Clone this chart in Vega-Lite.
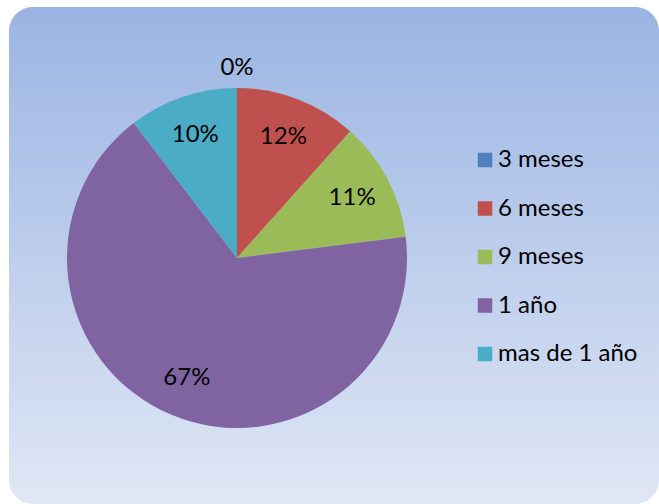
{
  "$schema": "https://vega.github.io/schema/vega-lite/v6.json",
  "width": 650,
  "height": 497,
  "padding": {"left": 9, "top": 7, "right": 0, "bottom": 0},
  "autosize": {"type": "none"},
  "background": "white",
  "view": {
    "fill": {
      "gradient": "linear",
      "x1": 0, "y1": 0, "x2": 0, "y2": 1,
      "stops": [
        {"offset": 0, "color": "#9ab4e3"},
        {"offset": 1, "color": "#e0e7f5"}
      ]
    },
    "cornerRadius": 24,
    "stroke": null
  },
  "data": {
    "values": [
      {"periodo": "3 meses", "valor": 0.0, "orden": 1},
      {"periodo": "6 meses", "valor": 0.116, "orden": 2},
      {"periodo": "9 meses", "valor": 0.114, "orden": 3},
      {"periodo": "1 año", "valor": 0.666, "orden": 4},
      {"periodo": "mas de 1 año", "valor": 0.104, "orden": 5}
    ]
  },
  "encoding": {
    "theta": {"field": "valor", "type": "quantitative", "stack": true},
    "order": {"field": "orden", "type": "quantitative"}
  },
  "layer": [
    {
      "mark": {"type": "arc", "outerRadius": 170, "x": 228, "y": 251, "stroke": null},
      "encoding": {
        "color": {
          "field": "periodo",
          "type": "nominal",
          "scale": {
            "domain": ["3 meses", "6 meses", "9 meses", "1 año", "mas de 1 año"],
            "range": ["#4f81bd", "#c0504d", "#9bbb59", "#8064a2", "#4bacc6"]
          },
          "legend": {
            "orient": "none",
            "legendX": 464,
            "legendY": 141,
            "title": null,
            "padding": 0,
            "symbolType": "square",
            "symbolSize": 210,
            "symbolStrokeWidth": 0,
            "labelFont": "Lato",
            "labelFontSize": 24,
            "labelColor": "#000000",
            "labelOffset": 1,
            "rowPadding": 24.5,
            "labelLimit": 300
          }
        }
      }
    },
    {
      "transform": [{"filter": "datum.valor > 0"}],
      "mark": {"type": "text", "radius": 130, "x": 228, "y": 251, "font": "Lato", "fontSize": 24, "color": "#000000"},
      "encoding": {
        "text": {"field": "valor", "type": "quantitative", "format": ".0%"}
      }
    },
    {
      "transform": [{"filter": "datum.valor == 0"}],
      "mark": {"type": "text", "radius": 190, "x": 228, "y": 251, "font": "Lato", "fontSize": 24, "color": "#000000"},
      "encoding": {
        "text": {"field": "valor", "type": "quantitative", "format": ".0%"}
      }
    }
  ]
}
